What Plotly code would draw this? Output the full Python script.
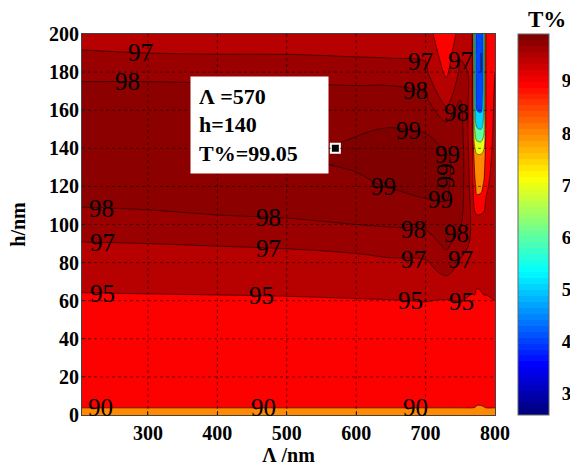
import numpy as np
import plotly.graph_objects as go

# ---------------- data ----------------
lam = [205, 300, 400, 500, 600, 650, 700, 730, 750, 767, 771, 774, 780, 784, 787, 800]   # Λ / nm
h = [0, 5, 30, 60, 75, 90, 105, 120, 135, 150, 165, 180, 190, 200]                     # h / nm

# T% for each Λ column (values listed bottom -> top, following h)
T_205 = [88.8, 90.4, 92.6, 94.65, 95.9, 96.95, 97.85, 98.4, 98.7, 98.6, 98.4, 97.8, 97.05, 96.75]
T_300 = [88.8, 90.4, 92.6, 94.7, 95.95, 97.0, 97.9, 98.45, 98.75, 98.65, 98.4, 97.8, 97.0, 96.7]
T_400 = [88.8, 90.4, 92.65, 94.75, 96.0, 97.1, 98.0, 98.5, 98.8, 98.7, 98.4, 97.75, 96.95, 96.65]
T_500 = [88.8, 90.4, 92.7, 94.8, 96.1, 97.2, 98.1, 98.6, 98.9, 98.8, 98.45, 97.7, 96.95, 96.55]
T_600 = [88.8, 90.4, 92.7, 94.9, 96.25, 97.4, 98.3, 98.85, 99.15, 98.95, 98.45, 97.6, 96.85, 96.45]
T_650 = [88.8, 90.4, 92.7, 94.95, 96.4, 97.6, 98.3, 99.05, 99.2, 99.03, 98.5, 97.55, 96.8, 96.35]
T_700 = [88.8, 90.4, 92.6, 95.05, 96.55, 97.6, 98.46, 99.4, 99.3, 98.95, 98.25, 97.3, 96.75, 96.25]
T_730 = [88.8, 90.4, 92.8, 94.9, 97.3, 98.2, 98.9, 99.1, 99.1, 98.5, 96.6, 94.6, 93.8, 92.8]
T_750 = [88.8, 90.4, 92.6, 95.1, 96.5, 97.6, 98.3, 98.6, 98.7, 98.5, 98.0, 97.35, 96.8, 96.0]
T_767 = [88.8, 90.4, 92.5, 94.7, 96.0, 96.8, 96.8, 96.5, 96.3, 96.2, 96.5, 96.8, 96.3, 95.8]
T_771 = [88.8, 90.3, 92.4, 94.8, 95.8, 96.2, 95.5, 91.5, 87.0, 68.0, 58.0, 57.0, 57.0, 58.0]
T_774 = [88.5, 90.0, 92.0, 94.6, 95.5, 96.0, 95.0, 88.0, 83.0, 61.0, 44.0, 42.0, 41.0, 42.0]
T_780 = [88.5, 90.0, 92.0, 94.7, 95.6, 96.0, 95.2, 88.5, 83.0, 60.0, 43.0, 40.0, 40.0, 41.0]
T_784 = [88.8, 90.2, 92.3, 94.8, 95.8, 96.3, 95.5, 91.0, 86.0, 66.0, 57.0, 55.0, 55.0, 56.0]
T_787 = [88.8, 90.4, 92.5, 94.8, 95.8, 96.3, 95.8, 94.5, 93.5, 92.5, 92.0, 91.5, 91.0, 90.5]
T_800 = [88.8, 90.4, 92.6, 95.0, 96.3, 97.0, 96.8, 96.3, 96.0, 95.8, 95.5, 95.0, 94.0, 93.0]
T_columns = [T_205, T_300, T_400, T_500, T_600, T_650, T_700, T_730,
             T_750, T_767, T_771, T_774, T_780, T_784, T_787, T_800]

contour_levels = [30, 40, 50, 60, 70, 80, 90, 95, 97, 98, 99]
labeled_levels = [90, 95, 97, 98, 99]
x_ticks = [300, 400, 500, 600, 700, 800]
y_ticks = [0, 20, 40, 60, 80, 100, 120, 140, 160, 180, 200]
cbar_ticks = [30, 40, 50, 60, 70, 80, 90]
c_min, c_max = 25.8, 99.0          # colour-axis limits

tip_lam, tip_h, tip_T = 570, 140, 99.05   # data tip

# contour-label placement (level, Λ where the label sits, which branch of the line)
label_level = [90, 90, 90, 95, 95, 95, 95, 97, 97, 97, 97, 98, 98, 98, 98,
               97, 97, 97, 98, 98, 98, 99, 99, 99, 99, 99]
label_lam = [231, 466, 685, 234, 464, 678, 752, 234, 473, 682, 750, 233, 473, 682, 745,
             289, 692, 750, 271, 685, 745, 639, 721, 675, 732, 728]
label_branch = ["low"] * 15 + ["up"] * 6 + ["low", "low", "up", "up", "mid"]

# ---------------- helpers ----------------
Z = np.array(T_columns).T   # rows = h, cols = Λ


def jet(t):
    t = min(max(t, 0.0), 1.0)
    r = min(max(1.5 - abs(4 * t - 3), 0), 1)
    g = min(max(1.5 - abs(4 * t - 2), 0), 1)
    b = min(max(1.5 - abs(4 * t - 1), 0), 1)
    return "rgb(%d,%d,%d)" % (round(r * 255), round(g * 255), round(b * 255))


def norm(v):
    return (v - c_min) / (c_max - c_min)


def crossing(level, l0, branch):
    """h where the contour `level` crosses the vertical line Λ = l0 (from the data grid)."""
    col = np.array([np.interp(l0, lam, Z[r, :]) for r in range(len(h))])
    hs = np.linspace(h[0], h[-1], 4001)
    v = np.interp(hs, h, col)
    above = v >= level
    idx = np.where(above[1:] != above[:-1])[0]
    if len(idx) == 0:
        return None
    if branch == "low":
        return float(hs[idx[0]])
    if branch == "up":
        return float(hs[idx[-1]])
    return float((hs[idx[0]] + hs[idx[-1]]) / 2)


# fill colourscale: each band [L_i, L_i+1) painted with jet(L_i), as contourf does
start, end, size = contour_levels[0], contour_levels[-1], 1
nc = int((end - start) / size) + 1
lo, hi = start - size / 2, start + (nc - 1) * size + size / 2


def pos(v):
    return (v - lo) / (hi - lo)


segments = [(0.0, pos(contour_levels[0]), jet(0.0))]
for a, b in zip(contour_levels[:-1], contour_levels[1:]):
    segments.append((pos(a), pos(b), jet(norm(a))))
segments.append((pos(contour_levels[-1]), 1.0, jet(norm(contour_levels[-1]))))
fill_cs = []
for a, b, c in segments:
    fill_cs.append([a, c])
    fill_cs.append([b, c])

# colour bar: 64-step jet map
cbar_cs = []
for i in range(64):
    c = jet(i / 63)
    cbar_cs.append([i / 64, c])
    cbar_cs.append([(i + 1) / 64, c])

serif = "Liberation Serif"
fig = go.Figure()

fig.add_trace(go.Contour(
    x=lam, y=h, z=Z, autocontour=False,
    contours=dict(start=start, end=end, size=size, coloring="fill", showlines=False),
    colorscale=fill_cs, showscale=False, line=dict(width=0), hoverinfo="skip"))

# contour lines: low levels in the narrow strip, then the labelled levels
fig.add_trace(go.Contour(
    x=lam, y=h, z=Z, autocontour=False,
    contours=dict(start=30, end=80, size=10, coloring="none", showlabels=False),
    line=dict(color="rgba(20,0,0,0.6)", width=0.7), showscale=False, hoverinfo="skip"))
for L in labeled_levels:
    fig.add_trace(go.Contour(
        x=lam, y=h, z=Z, autocontour=False,
        contours=dict(start=L, end=L, size=1, coloring="none", showlabels=False),
        line=dict(color="rgba(20,0,0,0.75)", width=0.8), showscale=False, hoverinfo="skip"))

# data-tip marker
fig.add_trace(go.Scatter(
    x=[tip_lam], y=[tip_h], mode="markers", hoverinfo="skip", showlegend=False,
    marker=dict(symbol="square", size=9, color="black", line=dict(color="white", width=2))))

# colour bar carrier
fig.add_trace(go.Scatter(
    x=[None, None], y=[None, None], mode="markers", hoverinfo="skip", showlegend=False,
    marker=dict(color=[c_min, c_max], colorscale=cbar_cs, cmin=c_min, cmax=c_max, showscale=True,
                colorbar=dict(x=1.0557, xanchor="left", xpad=0, y=0.5, yanchor="middle",
                              len=1, lenmode="fraction", ypad=0, thickness=31,
                              outlinewidth=1, outlinecolor="#666",
                              tickvals=cbar_ticks, ticktext=[str(t) for t in cbar_ticks],
                              ticks="outside", ticklen=9, tickcolor="white",
                              tickfont=dict(family=serif, size=19, color="black", weight="bold")))))

# dotted grid above the fill
shapes = []
for xv in x_ticks[:-1]:
    shapes.append(dict(type="line", xref="x", yref="paper", x0=xv, x1=xv, y0=0, y1=1, layer="above",
                       line=dict(color="rgba(0,0,0,0.55)", width=1, dash="dot")))
for yv in y_ticks[1:-1]:
    shapes.append(dict(type="line", xref="paper", yref="y", x0=0, x1=1, y0=yv, y1=yv, layer="above",
                       line=dict(color="rgba(0,0,0,0.55)", width=1, dash="dot")))

# contour labels sitting on the lines
annotations = []
for L, l0, br in zip(label_level, label_lam, label_branch):
    hc = crossing(L, l0, br)
    if hc is None:
        continue
    annotations.append(dict(x=l0, y=hc, xref="x", yref="y", showarrow=False,
                            xanchor="center", yanchor="middle", text=str(L),
                            textangle=-90 if br == "mid" else 0,
                            font=dict(family=serif, size=25, color="black")))

annotations += [
    dict(x=tip_lam, y=tip_h, xref="x", yref="y", showarrow=False,
         xanchor="right", yanchor="middle", xshift=-6, yshift=23,
         text="Λ =%d<br>h=%d<br>T%%=%.2f" % (tip_lam, tip_h, tip_T),
         align="left", bgcolor="white", borderpad=8, width=121, height=80,
         font=dict(family=serif, size=22, color="black", weight="bold")),
    dict(x=1.126, y=1.039, xref="paper", yref="paper", showarrow=False,
         xanchor="center", yanchor="middle", text="T%",
         font=dict(family=serif, size=23, color="black", weight="bold")),
]

tickfont = dict(family=serif, size=20, color="black", weight="bold")
fig.update_layout(
    width=570, height=467,
    margin=dict(l=82, r=75, t=34, b=52, autoexpand=False),
    paper_bgcolor="white", plot_bgcolor="white",
    showlegend=False, shapes=shapes, annotations=annotations,
    xaxis=dict(range=[205, 800], tickvals=x_ticks, ticks="inside", ticklen=4, tickcolor="#333",
               showline=True, mirror=True, linecolor="#444", showgrid=False, zeroline=False,
               tickfont=tickfont, ticklabelstandoff=0,
               title=dict(text="Λ /nm", font=tickfont, standoff=4)),
    yaxis=dict(range=[0, 200], tickvals=y_ticks, ticks="inside", ticklen=4, tickcolor="#333",
               showline=True, mirror=True, linecolor="#444", showgrid=False, zeroline=False,
               tickfont=tickfont, ticklabelstandoff=-2,
               title=dict(text="h/nm", font=tickfont, standoff=18)),
)

fig.write_html("out.html", config={"displayModeBar": False},
               post_script="document.body.style.margin='0px';")
